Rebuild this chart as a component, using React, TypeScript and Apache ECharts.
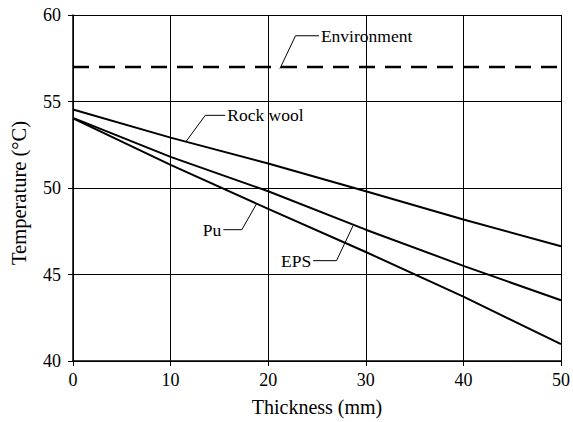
import React, { useEffect, useRef } from "react";
import * as echarts from "echarts";

const thickness = [0, 10, 20, 30, 40, 50];
const rockWool = [54.54, 52.91, 51.42, 49.81, 48.18, 46.63];
const eps = [54.05, 51.8, 49.81, 47.59, 45.5, 43.51];
const pu = [54.02, 51.34, 48.79, 46.3, 43.72, 40.98];
const environment = [57, 57, 57, 57, 57, 57];

const xTitle = "Thickness (mm)";
const yTitle = "Temperature (°C)";

type Ann = { text: string; leader: number[][]; anchor: number[]; align: "left" | "right" };
const annotations: Ann[] = [
  { text: "Environment", leader: [[21.2, 56.9], [22.8, 58.8], [25.2, 58.8]], anchor: [25.4, 58.8], align: "left" },
  { text: "Rock wool", leader: [[11.6, 52.7], [13.55, 54.2], [15.6, 54.2]], anchor: [15.8, 54.2], align: "left" },
  { text: "Pu", leader: [[18.8, 49.08], [17.3, 47.59], [15.4, 47.59]], anchor: [15.2, 47.59], align: "right" },
  { text: "EPS", leader: [[28.7, 47.83], [27.0, 45.8], [24.6, 45.8]], anchor: [24.4, 45.8], align: "right" },
];

const FONT = "Liberation Serif";

const pairs = (ys: number[]) => thickness.map((x, i) => [x, ys[i]]);

export default function App() {
  const ref = useRef<HTMLDivElement>(null);
  useEffect(() => {
    if (!ref.current) return;
    const chart = echarts.init(ref.current, undefined, { renderer: "svg" });
    const solid = { color: "#000", width: 2 };
    chart.setOption({
      animation: false,
      backgroundColor: "#fff",
      textStyle: { fontFamily: FONT },
      grid: { left: 70, right: 10, top: 15, bottom: 58, containLabel: false },
      xAxis: {
        type: "value",
        min: 0,
        max: 50,
        interval: 10,
        name: xTitle,
        nameLocation: "middle",
        nameGap: 36,
        nameTextStyle: { fontFamily: FONT, fontSize: 20, color: "#000" },
        axisLine: { show: true, onZero: false, lineStyle: { color: "#000", width: 1.5 } },
        axisTick: { show: true, inside: false, length: 5, lineStyle: { color: "#000", width: 1 } },
        axisLabel: { fontFamily: FONT, fontSize: 18, color: "#000", margin: 10 },
        splitLine: { show: true, lineStyle: { color: "#000", width: 1 } },
      },
      yAxis: {
        type: "value",
        min: 40,
        max: 60,
        interval: 5,
        name: yTitle,
        nameLocation: "middle",
        nameGap: 44,
        nameTextStyle: { fontFamily: FONT, fontSize: 20.5, color: "#000", padding: [0, 10, 0, 0] },
        axisLine: { show: true, onZero: false, lineStyle: { color: "#000", width: 1.5 } },
        axisTick: { show: true, inside: false, length: 5, lineStyle: { color: "#000", width: 1 } },
        axisLabel: { fontFamily: FONT, fontSize: 18, color: "#000", margin: 12 },
        splitLine: { show: true, lineStyle: { color: "#000", width: 1 } },
      },
      series: [
        { name: "Environment", type: "line", data: pairs(environment), showSymbol: false, lineStyle: { color: "#000", width: 2.5, type: [16, 10] } },
        { name: "Rock wool", type: "line", data: pairs(rockWool), showSymbol: false, lineStyle: solid },
        { name: "EPS", type: "line", data: pairs(eps), showSymbol: false, lineStyle: solid },
        { name: "Pu", type: "line", data: pairs(pu), showSymbol: false, lineStyle: solid },
      ],
    });
    const graphics: any[] = [];
    annotations.forEach((a) => {
      const pts = a.leader.map((p) => chart.convertToPixel({ gridIndex: 0 }, p) as number[]);
      graphics.push({ type: "polyline", shape: { points: pts }, style: { stroke: "#000", lineWidth: 1, fill: null } });
      const t = chart.convertToPixel({ gridIndex: 0 }, a.anchor) as number[];
      graphics.push({
        type: "text",
        x: t[0],
        y: t[1],
        style: { text: a.text, fontFamily: FONT, fontSize: 17.5, fill: "#000", align: a.align, verticalAlign: "middle" },
      });
    });
    chart.setOption({ graphic: graphics });
    return () => chart.dispose();
  }, []);
  return <div ref={ref} style={{ width: 573, height: 422, position: "absolute", left: 0, top: 0 }} />;
}
